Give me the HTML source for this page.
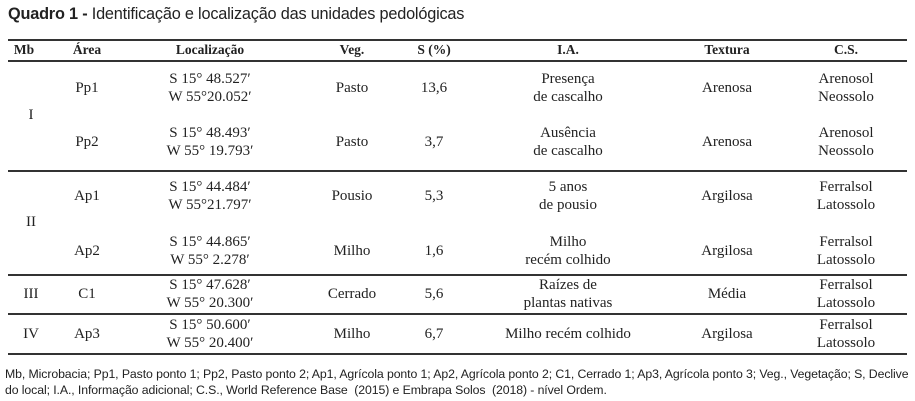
<!DOCTYPE html><html><head><meta charset="utf-8"><style>
body{margin:0;width:915px;height:401px;background:#fff;position:relative;overflow:hidden;color:#222}
.t{position:absolute;font-family:"Liberation Serif",serif;font-size:15px;line-height:18px;text-align:center;transform:translate(-50%,-50%);white-space:nowrap}
.h{font-weight:bold;font-size:13.5px}
.l{position:absolute;left:8px;width:899px;height:1.5px;background:#333}
.s{position:absolute;font-family:"Liberation Sans",sans-serif;white-space:nowrap}
</style></head><body>
<div class="s" style="left:8px;top:5px;font-size:16.3px;letter-spacing:-0.2px"><b>Quadro 1 -</b> Identificação e localização das unidades pedológicas</div>
<div class="l" style="top:39px"></div><div class="l" style="top:60px"></div>
<div class="l" style="top:170px"></div><div class="l" style="top:274px"></div>
<div class="l" style="top:313px"></div><div class="l" style="top:353px"></div>
<div class="t h" style="left:24px;top:50px">Mb</div>
<div class="t h" style="left:87px;top:50px">Área</div>
<div class="t h" style="left:210px;top:50px">Localização</div>
<div class="t h" style="left:352px;top:50px">Veg.</div>
<div class="t h" style="left:434px;top:50px">S (%)</div>
<div class="t h" style="left:568px;top:50px">I.A.</div>
<div class="t h" style="left:727px;top:50px">Textura</div>
<div class="t h" style="left:846px;top:50px">C.S.</div>

<div class="t" style="left:31px;top:115px">I</div>
<div class="t" style="left:31px;top:222px">II</div>
<div class="t" style="left:31px;top:294px">III</div>
<div class="t" style="left:31px;top:334px">IV</div>

<div class="t" style="left:87px;top:88px">Pp1</div>
<div class="t" style="left:210px;top:88px">S 15° 48.527′<br>W 55°20.052′</div>
<div class="t" style="left:352px;top:88px">Pasto</div>
<div class="t" style="left:434px;top:88px">13,6</div>
<div class="t" style="left:568px;top:88px">Presença<br>de cascalho</div>
<div class="t" style="left:727px;top:88px">Arenosa</div>
<div class="t" style="left:846px;top:88px">Arenosol<br>Neossolo</div>

<div class="t" style="left:87px;top:142px">Pp2</div>
<div class="t" style="left:210px;top:142px">S 15° 48.493′<br>W 55° 19.793′</div>
<div class="t" style="left:352px;top:142px">Pasto</div>
<div class="t" style="left:434px;top:142px">3,7</div>
<div class="t" style="left:568px;top:142px">Ausência<br>de cascalho</div>
<div class="t" style="left:727px;top:142px">Arenosa</div>
<div class="t" style="left:846px;top:142px">Arenosol<br>Neossolo</div>

<div class="t" style="left:87px;top:196px">Ap1</div>
<div class="t" style="left:210px;top:196px">S 15° 44.484′<br>W 55°21.797′</div>
<div class="t" style="left:352px;top:196px">Pousio</div>
<div class="t" style="left:434px;top:196px">5,3</div>
<div class="t" style="left:568px;top:196px">5 anos<br>de pousio</div>
<div class="t" style="left:727px;top:196px">Argilosa</div>
<div class="t" style="left:846px;top:196px">Ferralsol<br>Latossolo</div>

<div class="t" style="left:87px;top:251px">Ap2</div>
<div class="t" style="left:210px;top:251px">S 15° 44.865′<br>W 55° 2.278′</div>
<div class="t" style="left:352px;top:251px">Milho</div>
<div class="t" style="left:434px;top:251px">1,6</div>
<div class="t" style="left:568px;top:251px">Milho<br>recém colhido</div>
<div class="t" style="left:727px;top:251px">Argilosa</div>
<div class="t" style="left:846px;top:251px">Ferralsol<br>Latossolo</div>

<div class="t" style="left:87px;top:294px">C1</div>
<div class="t" style="left:210px;top:294px">S 15° 47.628′<br>W 55° 20.300′</div>
<div class="t" style="left:352px;top:294px">Cerrado</div>
<div class="t" style="left:434px;top:294px">5,6</div>
<div class="t" style="left:568px;top:294px">Raízes de<br>plantas nativas</div>
<div class="t" style="left:727px;top:294px">Média</div>
<div class="t" style="left:846px;top:294px">Ferralsol<br>Latossolo</div>

<div class="t" style="left:87px;top:334px">Ap3</div>
<div class="t" style="left:210px;top:334px">S 15° 50.600′<br>W 55° 20.400′</div>
<div class="t" style="left:352px;top:334px">Milho</div>
<div class="t" style="left:434px;top:334px">6,7</div>
<div class="t" style="left:568px;top:334px">Milho recém colhido</div>
<div class="t" style="left:727px;top:334px">Argilosa</div>
<div class="t" style="left:846px;top:334px">Ferralsol<br>Latossolo</div>

<div class="s" style="left:5px;top:366px;font-size:12.3px;line-height:16px;letter-spacing:-0.1px">Mb, Microbacia; Pp1, Pasto ponto 1; Pp2, Pasto ponto 2; Ap1, Agrícola ponto 1; Ap2, Agrícola ponto 2; C1, Cerrado 1; Ap3, Agrícola ponto 3; Veg., Vegetação; S, Declive<br>do local; I.A., Informação adicional; C.S., World Reference Base &nbsp;(2015) e Embrapa Solos &nbsp;(2018) - nível Ordem.</div>
</body></html>
